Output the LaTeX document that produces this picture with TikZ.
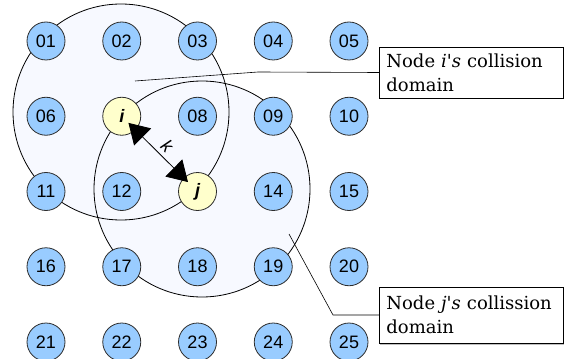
\documentclass[tikz,border=0pt]{standalone}
\usepackage{fontspec}
\setsansfont{Liberation Sans}
\newfontfamily\calloutfont{DejaVu Serif}
\usetikzlibrary{arrows.meta, shadows}

\definecolor{stationblue}{RGB}{153,204,255}
\definecolor{pairyellow}{RGB}{255,255,204}
\definecolor{domainfill}{RGB}{247,249,255}
\definecolor{rimgray}{RGB}{45,45,45}

\tikzset{
  station/.style={circle, draw=rimgray, fill=stationblue, line width=0.8pt,
    minimum size=38pt, inner sep=0pt, font=\sffamily\fontsize{18}{18}\selectfont},
  pair/.style={station, fill=pairyellow,
    font=\sffamily\bfseries\itshape\fontsize{18}{18}\selectfont},
  rangeline/.style={draw=black, line width=0.8pt},
  callout/.style={draw=black, fill=white, line width=0.8pt, anchor=west,
    minimum width=184pt, text width=170pt, align=left, inner xsep=7pt,
    font=\calloutfont\fontsize{18}{24}\selectfont,
    drop shadow={shadow xshift=1pt, shadow yshift=-1.5pt, fill=gray}},
}

\begin{document}
\begin{tikzpicture}[x=1pt, y=-1pt]
\useasboundingbox (0,0) rectangle (569,358);

% collision domains: fills first, outlines on top
\fill[domainfill] (121,112) circle (108pt);
\fill[domainfill] (202,189) circle (108pt);
\draw[rangeline] (121,112) circle (108pt);
\draw[rangeline] (202,189) circle (108pt);

% callouts
\node[callout, minimum height=51pt] (icoll) at (379,72.5) {Node \textit{i's} collision\\domain};
\node[callout, minimum height=56pt] (jcoll) at (379,315) {Node \textit{j's} collission\\domain};
\coordinate (ipoint) at (135,81);
\coordinate (jpoint) at (289,234);
\draw[line width=0.6pt] (ipoint) -- (258,72) -- (icoll.west);
\draw[line width=0.6pt] (jpoint) -- (333,315) -- (jcoll.west);

% grid of stations, 5 x 5
\foreach \r in {0,...,4} {
  \foreach \c in {0,...,4} {
    \pgfmathtruncatemacro\num{5*\r+\c+1}
    \ifnum\num=7\else\ifnum\num=13\else
      \node[station] (n\num) at (46+75.75*\c, 41+75.25*\r) {\ifnum\num<10 0\fi\num};
    \fi\fi
  }
}
\node[pair] (i) at (46+75.75, 41+75.25) {i};
\node[pair] (j) at (46+2*75.75, 41+2*75.25) {j};

% distance between the pair, heads reaching into the nodes
\draw[{Triangle[length=20pt,width=24pt]}-{Triangle[length=20pt,width=24pt]}, line width=0.8pt,
  shorten <=-10pt, shorten >=-6pt]
  (i) -- node[sloped, above, inner sep=4pt, font=\sffamily\itshape\fontsize{18}{18}\selectfont] {k} (j);

\end{tikzpicture}
\end{document}
